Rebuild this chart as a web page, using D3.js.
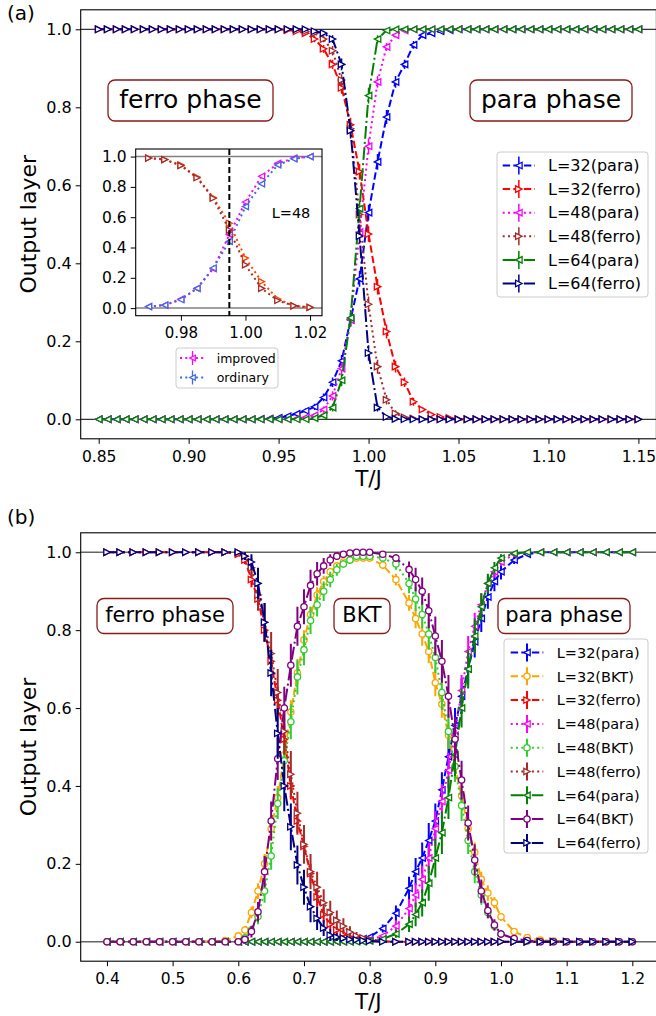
<!DOCTYPE html>
<html>
<head>
<meta charset="utf-8">
<script src="https://cdn.jsdelivr.net/npm/d3@7"></script>
<style>
  body { margin: 0; background: #fff; }
  svg { display: block; }
  text { font-family: "DejaVu Sans", sans-serif; }
</style>
</head>
<body>
<script>
// ---------- panel (a): temperatures and outputs ----------
const tTop = [
  0.85,0.855,0.86,0.865,0.87,0.875,0.88,0.885,0.89,0.895,
  0.9,0.905,0.91,0.915,0.92,0.925,0.93,0.935,0.94,0.945,
  0.95,0.955,0.96,0.965,0.97,0.975,0.98,0.985,0.99,0.995,
  1.0,1.005,1.01,1.015,1.02,1.025,1.03,1.035,1.04,1.045,
  1.05,1.055,1.06,1.065,1.07,1.075,1.08,1.085,1.09,1.095,
  1.1,1.105,1.11,1.115,1.12,1.125,1.13,1.135,1.14,1.145,1.15];
const topPara32 = [
  0,0,0,0,0,0,0,0,0,0, 0,0,0,0,0,0,0,0,0.001,0.002,
  0.004,0.008,0.014,0.022,0.032,0.056,0.095,0.15,0.255,0.36,
  0.53,0.66,0.775,0.865,0.91,0.96,0.985,0.99,0.995,0.998,
  1,1,1,1,1,1,1,1,1,1, 1,1,1,1,1,1,1,1,1,1, 1];
const topFerro32 = [
  1,1,1,1,1,1,1,1,1,1, 1,1,1,1,1,1,1,1,1,1,
  1,0.998,0.995,0.99,0.975,0.95,0.91,0.85,0.755,0.635,
  0.475,0.34,0.225,0.135,0.095,0.045,0.025,0.012,0.006,0.003,
  0,0,0,0,0,0,0,0,0,0, 0,0,0,0,0,0,0,0,0,0, 0];
const topPara48 = [
  0,0,0,0,0,0,0,0,0,0, 0,0,0,0,0,0,0,0,0,0,
  0,0,0.002,0.005,0.01,0.025,0.06,0.13,0.255,0.48,
  0.7,0.865,0.955,0.985,0.997,1,1,1,1,1,
  1,1,1,1,1,1,1,1,1,1, 1,1,1,1,1,1,1,1,1,1, 1];
const topFerro48 = [
  1,1,1,1,1,1,1,1,1,1, 1,1,1,1,1,1,1,1,1,1,
  1,1,1,0.995,0.99,0.975,0.945,0.87,0.745,0.525,
  0.295,0.135,0.05,0.015,0.005,0.002,0,0,0,0,
  0,0,0,0,0,0,0,0,0,0, 0,0,0,0,0,0,0,0,0,0, 0];
const topPara64 = [
  0,0,0,0,0,0,0,0,0,0, 0,0,0,0,0,0,0,0,0,0,
  0,0,0,0,0.003,0.01,0.03,0.1,0.26,0.54,
  0.83,0.975,0.997,1,1,1,1,1,1,1,
  1,1,1,1,1,1,1,1,1,1, 1,1,1,1,1,1,1,1,1,1, 1];
const topFerro64 = [
  1,1,1,1,1,1,1,1,1,1, 1,1,1,1,1,1,1,1,1,1,
  1,1,1,1,0.995,0.99,0.975,0.91,0.74,0.47,
  0.17,0.03,0.006,0.001,0,0,0,0,0,0,
  0,0,0,0,0,0,0,0,0,0, 0,0,0,0,0,0,0,0,0,0, 0];
// error bars (half length)
const errTopPara32 = [
  0,0,0,0,0,0,0,0,0,0, 0,0,0,0,0,0,0,0,0,0,
  0,0,0.004,0.006,0.008,0.01,0.012,0.015,0.018,0.02,
  0.02,0.02,0.018,0.015,0.012,0.01,0.006,0.004,0,0,
  0,0,0,0,0,0,0,0,0,0, 0,0,0,0,0,0,0,0,0,0, 0];
const errTopFerro32 = [
  0,0,0,0,0,0,0,0,0,0, 0,0,0,0,0,0,0,0,0,0,
  0,0,0,0.004,0.008,0.01,0.012,0.015,0.018,0.02,
  0.02,0.02,0.018,0.015,0.012,0.01,0.006,0.004,0,0,
  0,0,0,0,0,0,0,0,0,0, 0,0,0,0,0,0,0,0,0,0, 0];
const errTopPara48 = [
  0,0,0,0,0,0,0,0,0,0, 0,0,0,0,0,0,0,0,0,0,
  0,0,0,0,0.005,0.008,0.012,0.015,0.018,0.02,
  0.02,0.015,0.01,0.005,0,0,0,0,0,0,
  0,0,0,0,0,0,0,0,0,0, 0,0,0,0,0,0,0,0,0,0, 0];
const errTopFerro48 = [
  0,0,0,0,0,0,0,0,0,0, 0,0,0,0,0,0,0,0,0,0,
  0,0,0,0,0.005,0.008,0.012,0.015,0.018,0.02,
  0.02,0.018,0.012,0.008,0.004,0,0,0,0,0,
  0,0,0,0,0,0,0,0,0,0, 0,0,0,0,0,0,0,0,0,0, 0];
const errTopPara64 = [
  0,0,0,0,0,0,0,0,0,0, 0,0,0,0,0,0,0,0,0,0,
  0,0,0,0,0,0.006,0.01,0.015,0.02,0.02,
  0.02,0.01,0.004,0,0,0,0,0,0,0,
  0,0,0,0,0,0,0,0,0,0, 0,0,0,0,0,0,0,0,0,0, 0];
const errTopFerro64 = [
  0,0,0,0,0,0,0,0,0,0, 0,0,0,0,0,0,0,0,0,0,
  0,0,0,0,0.004,0.006,0.01,0.015,0.02,0.02,
  0.02,0.01,0.004,0,0,0,0,0,0,0,
  0,0,0,0,0,0,0,0,0,0, 0,0,0,0,0,0,0,0,0,0, 0];

// inset (L=48)
const tInset = [0.97,0.975,0.98,0.985,0.99,0.995,1.0,1.005,1.01,1.015,1.02];
const insetParaImproved = [0.01,0.02,0.06,0.13,0.26,0.485,0.7,0.87,0.955,0.99,1.0];
const insetParaOrdinary = [0.01,0.02,0.055,0.13,0.265,0.44,0.67,0.82,0.945,0.985,1.0];
const insetFerroImproved = [0.99,0.98,0.945,0.865,0.73,0.56,0.33,0.175,0.06,0.015,0.005];
const insetFerroOrdinary = [0.99,0.98,0.94,0.86,0.725,0.515,0.285,0.13,0.05,0.015,0.005];
const insetErr = [0.004,0.006,0.008,0.01,0.012,0.012,0.012,0.01,0.008,0.006,0.004];
const insetTc = 0.995;

// ---------- panel (b) ----------
const tBot = [
  0.40,0.42,0.44,0.46,0.48,0.50,0.52,0.54,0.56,0.58,
  0.60,0.61,0.62,0.63,0.64,0.65,0.66,0.67,0.68,0.69,
  0.70,0.71,0.72,0.73,0.74,0.75,0.76,0.77,0.78,0.79,
  0.80,0.82,0.84,0.86,0.87,0.88,0.89,0.90,0.91,0.92,
  0.93,0.94,0.95,0.96,0.97,0.98,0.99,1.00,1.02,1.04,
  1.06,1.08,1.10,1.12,1.14,1.16,1.18,1.20];
const botPara32 = [
  0,0,0,0,0,0,0,0,0,0, 0,0,0,0,0,0,0,0,0,0,
  0,0,0,0,0,0,0.002,0.003,0.005,0.008,
  0.012,0.034,0.073,0.137,0.18,0.215,0.26,0.31,0.39,0.475,
  0.555,0.63,0.7,0.77,0.83,0.885,0.925,0.95,0.98,0.995,
  1,1,1,1,1,1,1,1];
const botBkt32 = [
  0,0,0,0,0,0,0,0,0,0.003,
  0.015,0.03,0.075,0.13,0.2,0.29,0.37,0.48,0.59,0.69,
  0.775,0.84,0.89,0.925,0.95,0.965,0.975,0.98,0.985,0.985,
  0.985,0.967,0.93,0.87,0.83,0.79,0.745,0.665,0.61,0.53,
  0.45,0.375,0.29,0.23,0.16,0.125,0.1,0.064,0.026,0.011,
  0.004,0.002,0,0,0,0,0,0];
const botFerro32 = [
  1,1,1,1,1,1,1,1,1,1,
  0.995,0.98,0.93,0.88,0.8,0.72,0.62,0.52,0.4,0.31,
  0.245,0.175,0.115,0.07,0.045,0.03,0.02,0.012,0.008,0.005,
  0.003,0.001,0,0,0,0,0,0,0,0,
  0,0,0,0,0,0,0,0,0,0, 0,0,0,0,0,0,0,0];
const botPara48 = [
  0,0,0,0,0,0,0,0,0,0, 0,0,0,0,0,0,0,0,0,0,
  0,0,0,0,0,0,0,0,0.002,0.003,
  0.005,0.015,0.04,0.085,0.12,0.16,0.215,0.29,0.36,0.44,
  0.53,0.645,0.745,0.81,0.865,0.92,0.95,0.975,0.995,1,
  1,1,1,1,1,1,1,1];
const botBkt48 = [
  0,0,0,0,0,0,0,0,0,0,
  0,0.01,0.03,0.065,0.13,0.22,0.355,0.465,0.565,0.68,
  0.75,0.825,0.865,0.9,0.93,0.955,0.97,0.98,0.99,0.99,
  0.99,0.985,0.97,0.92,0.88,0.84,0.79,0.73,0.64,0.54,
  0.45,0.35,0.26,0.18,0.12,0.075,0.04,0.02,0.007,0.002,
  0,0,0,0,0,0,0,0];
const botFerro48 = [
  1,1,1,1,1,1,1,1,1,1,
  1,0.99,0.96,0.89,0.82,0.74,0.64,0.54,0.43,0.33,
  0.25,0.18,0.14,0.1,0.075,0.055,0.04,0.025,0.015,0.01,
  0.006,0.002,0,0,0,0,0,0,0,0,
  0,0,0,0,0,0,0,0,0,0, 0,0,0,0,0,0,0,0];
const botPara64 = [
  0,0,0,0,0,0,0,0,0,0, 0,0,0,0,0,0,0,0,0,0,
  0,0,0,0,0,0,0,0,0,0,
  0.002,0.007,0.02,0.045,0.07,0.1,0.15,0.215,0.28,0.37,
  0.48,0.6,0.7,0.785,0.86,0.92,0.96,0.985,0.997,1,
  1,1,1,1,1,1,1,1];
const botBkt64 = [
  0,0,0,0,0,0,0,0,0,0,
  0,0.006,0.026,0.077,0.18,0.31,0.47,0.6,0.71,0.81,
  0.86,0.915,0.945,0.965,0.98,0.99,0.995,0.998,1,1,
  1,0.995,0.985,0.956,0.93,0.9,0.85,0.785,0.72,0.63,
  0.52,0.415,0.305,0.21,0.13,0.08,0.043,0.02,0.008,0.003,
  0,0,0,0,0,0,0,0];
const botFerro64 = [
  1,1,1,1,1,1,1,1,1,1,
  1,0.99,0.975,0.92,0.82,0.69,0.535,0.4,0.295,0.197,
  0.14,0.09,0.06,0.035,0.017,0.012,0.009,0.006,0.005,0.003,
  0.002,0,0,0,0,0,0,0,0,0,
  0,0,0,0,0,0,0,0,0,0, 0,0,0,0,0,0,0,0];
const errBotPara32 = [
  0,0,0,0,0,0,0,0,0,0, 0,0,0,0,0,0,0,0,0,0,
  0,0,0,0,0,0,0,0,0,0.005,
  0.005,0.01,0.02,0.03,0.035,0.04,0.045,0.045,0.045,0.045,
  0.045,0.045,0.04,0.04,0.035,0.03,0.025,0.02,0.01,0.005,
  0,0,0,0,0,0,0,0];
const errBotBkt32 = [
  0,0,0,0,0,0,0,0,0,0,
  0.005,0.01,0.015,0.02,0.025,0.03,0.03,0.03,0.03,0.03,
  0.025,0.02,0.02,0.015,0.01,0.01,0.005,0.005,0.005,0.005,
  0.005,0.01,0.015,0.02,0.025,0.03,0.03,0.035,0.035,0.035,
  0.035,0.03,0.03,0.025,0.02,0.02,0.015,0.01,0.005,0,
  0,0,0,0,0,0,0,0];
const errBotFerro32 = [
  0,0,0,0,0,0,0,0,0,0,
  0.005,0.01,0.02,0.025,0.03,0.03,0.035,0.035,0.035,0.03,
  0.03,0.025,0.025,0.02,0.015,0.01,0.01,0.005,0.005,0,
  0,0,0,0,0,0,0,0,0,0,
  0,0,0,0,0,0,0,0,0,0, 0,0,0,0,0,0,0,0];
const errBotPara48 = [
  0,0,0,0,0,0,0,0,0,0, 0,0,0,0,0,0,0,0,0,0,
  0,0,0,0,0,0,0,0,0,0,
  0,0.005,0.015,0.025,0.03,0.035,0.04,0.045,0.045,0.045,
  0.045,0.04,0.04,0.035,0.03,0.02,0.015,0.01,0.005,0,
  0,0,0,0,0,0,0,0];
const errBotBkt48 = [
  0,0,0,0,0,0,0,0,0,0,
  0,0.005,0.01,0.02,0.03,0.035,0.04,0.045,0.045,0.045,
  0.04,0.035,0.03,0.025,0.02,0.015,0.01,0.01,0.005,0.005,
  0.005,0.01,0.015,0.025,0.03,0.035,0.04,0.04,0.045,0.045,
  0.04,0.04,0.035,0.03,0.025,0.015,0.01,0.005,0,0,
  0,0,0,0,0,0,0,0];
const errBotFerro48 = [
  0,0,0,0,0,0,0,0,0,0,
  0,0.01,0.025,0.04,0.05,0.055,0.06,0.06,0.06,0.055,
  0.05,0.045,0.04,0.035,0.03,0.025,0.02,0.015,0.01,0.005,
  0,0,0,0,0,0,0,0,0,0,
  0,0,0,0,0,0,0,0,0,0, 0,0,0,0,0,0,0,0];
const errBotPara64 = [
  0,0,0,0,0,0,0,0,0,0, 0,0,0,0,0,0,0,0,0,0,
  0,0,0,0,0,0,0,0,0,0,
  0,0,0.01,0.02,0.03,0.035,0.045,0.05,0.055,0.055,
  0.055,0.05,0.05,0.045,0.035,0.025,0.015,0.01,0,0,
  0,0,0,0,0,0,0,0];
const errBotBkt64 = [
  0,0,0,0,0,0,0,0,0,0,
  0,0.005,0.015,0.025,0.04,0.05,0.055,0.055,0.055,0.05,
  0.045,0.04,0.03,0.02,0.015,0.01,0.005,0,0,0,
  0,0.005,0.01,0.02,0.03,0.035,0.045,0.05,0.055,0.055,
  0.055,0.05,0.045,0.04,0.03,0.02,0.015,0.01,0,0,
  0,0,0,0,0,0,0,0];
const errBotFerro64 = [
  0,0,0,0,0,0,0,0,0,0,
  0,0.01,0.02,0.04,0.05,0.06,0.065,0.065,0.06,0.05,
  0.045,0.04,0.03,0.02,0.015,0.01,0.005,0,0,0,
  0,0,0,0,0,0,0,0,0,0,
  0,0,0,0,0,0,0,0,0,0, 0,0,0,0,0,0,0,0];

const ticksTopX = [0.85,0.9,0.95,1.0,1.05,1.1,1.15];
const ticksBotX = [0.4,0.5,0.6,0.7,0.8,0.9,1.0,1.1,1.2];
const ticksY = [0,0.2,0.4,0.6,0.8,1.0];
const ticksInsetX = [0.98,1.0,1.02];

// ---------- styling ----------
const DASH = {dashed: "7.4,3.2", dotted: "2,3.3", dashdot: "12.8,3.2,2,3.2"};

const topSeries = [
  {label: "L=32(para)", v: topPara32, e: errTopPara32, color: "#0000ff", dash: "dashed", mk: "left"},
  {label: "L=32(ferro)", v: topFerro32, e: errTopFerro32, color: "#ff0000", dash: "dashed", mk: "right"},
  {label: "L=48(para)", v: topPara48, e: errTopPara48, color: "#ff00ff", dash: "dotted", mk: "left"},
  {label: "L=48(ferro)", v: topFerro48, e: errTopFerro48, color: "#a52a2a", dash: "dotted", mk: "right"},
  {label: "L=64(para)", v: topPara64, e: errTopPara64, color: "#008000", dash: "dashdot", mk: "left"},
  {label: "L=64(ferro)", v: topFerro64, e: errTopFerro64, color: "#000080", dash: "dashdot", mk: "right"}
];
const insetSeries = [
  {label: "improved", v: insetParaImproved, e: insetErr, color: "#ff00ff", dash: "dotted", mk: "left"},
  {label: "ordinary", v: insetParaOrdinary, e: insetErr, color: "#4169e1", dash: "dotted", mk: "left"},
  {label: null, v: insetFerroImproved, e: insetErr, color: "#ff4500", dash: "dotted", mk: "right"},
  {label: null, v: insetFerroOrdinary, e: insetErr, color: "#a52a2a", dash: "dotted", mk: "right"}
];
const botSeries = [
  {label: "L=32(para)", v: botPara32, e: errBotPara32, color: "#0000ff", dash: "dashed", mk: "left"},
  {label: "L=32(BKT)", v: botBkt32, e: errBotBkt32, color: "#ffa500", dash: "dashed", mk: "circle"},
  {label: "L=32(ferro)", v: botFerro32, e: errBotFerro32, color: "#ff0000", dash: "dashed", mk: "right"},
  {label: "L=48(para)", v: botPara48, e: errBotPara48, color: "#ff00ff", dash: "dotted", mk: "left"},
  {label: "L=48(BKT)", v: botBkt48, e: errBotBkt48, color: "#32cd32", dash: "dotted", mk: "circle"},
  {label: "L=48(ferro)", v: botFerro48, e: errBotFerro48, color: "#a52a2a", dash: "dotted", mk: "right"},
  {label: "L=64(para)", v: botPara64, e: errBotPara64, color: "#008000", dash: "dashdot", mk: "left"},
  {label: "L=64(BKT)", v: botBkt64, e: errBotBkt64, color: "#800080", dash: "dashdot", mk: "circle"},
  {label: "L=64(ferro)", v: botFerro64, e: errBotFerro64, color: "#000080", dash: "dashdot", mk: "right"}
];

const svg = d3.select("body").append("svg").attr("width", 656).attr("height", 1016);

function addMarker(g, type, x, y, size, color) {
  const h = size / 2;
  if (type === "circle") {
    return g.append("circle").attr("cx", x).attr("cy", y).attr("r", h)
      .attr("fill", "#fff").attr("stroke", color).attr("stroke-width", 1.3);
  }
  const p = type === "left"
    ? `M${-h},0L${h},${-h}L${h},${h}Z`
    : `M${h},0L${-h},${-h}L${-h},${h}Z`;
  return g.append("path").attr("d", p).attr("transform", `translate(${x},${y})`)
    .attr("fill", "#fff").attr("stroke", color).attr("stroke-width", 1.3);
}

function drawSeries(layer, sx, sy, ts, s, opt) {
  const g = layer.append("g");
  const pts = ts.map((t, i) => ({t: t, v: s.v[i], e: s.e[i]}));
  g.append("path").datum(pts)
    .attr("d", d3.line().x(d => sx(d.t)).y(d => sy(d.v)))
    .attr("fill", "none").attr("stroke", s.color).attr("stroke-width", opt.lw)
    .attr("stroke-dasharray", DASH[s.dash]);
  g.selectAll(".eb").data(pts.filter(d => d.e > 0)).join("line")
    .attr("x1", d => sx(d.t)).attr("x2", d => sx(d.t))
    .attr("y1", d => sy(d.v - d.e)).attr("y2", d => sy(d.v + d.e))
    .attr("stroke", s.color).attr("stroke-width", opt.elw);
  pts.forEach(d => addMarker(g, s.mk, sx(d.t), sy(d.v), opt.ms, s.color));
}

function drawAxes(g, box, sx, sy, xt, yt, xfmt, yfmt, fx, fy) {
  const xa = g.append("g").attr("transform", `translate(0,${box.b})`)
    .call(d3.axisBottom(sx).tickValues(xt).tickFormat(xfmt).tickSize(5).tickPadding(7));
  xa.select(".domain").remove();
  xa.attr("font-family", "DejaVu Sans").attr("font-size", fx);
  const ya = g.append("g").attr("transform", `translate(${box.l},0)`)
    .call(d3.axisLeft(sy).tickValues(yt).tickFormat(yfmt).tickSize(5).tickPadding(4));
  ya.select(".domain").remove();
  ya.attr("font-family", "DejaVu Sans").attr("font-size", fy);
  g.append("rect").attr("x", box.l).attr("y", box.t)
    .attr("width", box.r - box.l).attr("height", box.b - box.t)
    .attr("fill", "none").attr("stroke", "#000").attr("stroke-width", 1.1);
}

function hlines(g, box, sy, color, w) {
  [0, 1].forEach(v => g.append("line").attr("x1", box.l).attr("x2", box.r)
    .attr("y1", sy(v)).attr("y2", sy(v)).attr("stroke", color).attr("stroke-width", w));
}

function clipFor(id, box) {
  svg.append("clipPath").attr("id", id).append("rect")
    .attr("x", box.l).attr("y", box.t).attr("width", box.r - box.l).attr("height", box.b - box.t);
  return `url(#${id})`;
}

function phaseBox(g, cx, y0, w, h, label, fs, baseline) {
  g.append("rect").attr("x", cx - w / 2).attr("y", y0).attr("width", w).attr("height", h)
    .attr("rx", 7).attr("fill", "#fff").attr("stroke", "#8b1a1a").attr("stroke-width", 1.3);
  g.append("text").attr("x", cx).attr("y", baseline).attr("text-anchor", "middle")
    .attr("font-size", fs).text(label);
}

function legend(g, items, o) {
  g.append("rect").attr("x", o.x).attr("y", o.y).attr("width", o.w).attr("height", o.h)
    .attr("rx", 3).attr("fill", "#fff").attr("fill-opacity", 0.8)
    .attr("stroke", "#cccccc").attr("stroke-width", 1);
  items.forEach((s, i) => {
    const y = o.row0 + i * o.dy;
    const mid = (o.s0 + o.s1) / 2;
    g.append("line").attr("x1", o.s0).attr("x2", o.s1).attr("y1", y).attr("y2", y)
      .attr("stroke", s.color).attr("stroke-width", o.lw).attr("stroke-dasharray", DASH[s.dash]);
    g.append("line").attr("x1", mid).attr("x2", mid).attr("y1", y - o.eb).attr("y2", y + o.eb)
      .attr("stroke", s.color).attr("stroke-width", o.elw);
    addMarker(g, s.mk, mid, y, o.ms, s.color);
    g.append("text").attr("x", o.tx).attr("y", y).attr("dy", "0.36em")
      .attr("font-size", o.fs).text(s.label);
  });
}

// ---------- panel (a) ----------
const boxA = {l: 80.7, r: 656.4, t: 9.8, b: 438.8};
const xA = d3.scaleLinear().domain([0.84, 1.16]).range([boxA.l, boxA.r]);
const yA = d3.scaleLinear().domain([-0.05, 1.05]).range([boxA.b, boxA.t]);
const gA = svg.append("g");
hlines(gA, boxA, yA, "#000", 1);
const dataA = gA.append("g").attr("clip-path", clipFor("clipA", boxA));
topSeries.forEach(s => drawSeries(dataA, xA, yA, tTop, s, {lw: 2, elw: 1.5, ms: 6.5}));
drawAxes(gA, boxA, xA, yA, ticksTopX, ticksY, d3.format(".2f"), d3.format(".1f"), 15.5, 16);
gA.append("text").attr("x", (boxA.l + boxA.r) / 2).attr("y", 486).attr("text-anchor", "middle")
  .attr("font-size", 21.5).text("T/J");
gA.append("text").attr("transform", `translate(28,${(boxA.t + boxA.b) / 2}) rotate(-90)`)
  .attr("text-anchor", "middle").attr("dy", "0.36em").attr("font-size", 22).text("Output layer");
phaseBox(gA, 190.5, 80, 165, 41, "ferro phase", 25, 107.7);
phaseBox(gA, 551, 80, 162, 41, "para phase", 25, 107.7);
legend(gA, topSeries, {x: 497, y: 152, w: 151, h: 145, row0: 165.5, dy: 23.6,
  s0: 502.7, s1: 535, tx: 548, fs: 16, lw: 2, elw: 1.5, eb: 9, ms: 6.5});

// inset
const boxI = {l: 135.7, r: 322, t: 149, b: 315.7};
const xI = d3.scaleLinear().domain([0.966, 1.0237]).range([boxI.l, boxI.r]);
const yI = d3.scaleLinear().domain([-0.05, 1.05]).range([boxI.b, boxI.t]);
const gI = svg.append("g");
gI.append("rect").attr("x", boxI.l).attr("y", boxI.t).attr("width", boxI.r - boxI.l)
  .attr("height", boxI.b - boxI.t).attr("fill", "#fff");
hlines(gI, boxI, yI, "#808080", 1.5);
const dataI = gI.append("g").attr("clip-path", clipFor("clipI", boxI));
insetSeries.forEach(s => drawSeries(dataI, xI, yI, tInset, s, {lw: 2, elw: 1.3, ms: 6}));
dataI.append("line").attr("x1", xI(insetTc)).attr("x2", xI(insetTc))
  .attr("y1", boxI.t).attr("y2", boxI.b).attr("stroke", "#000").attr("stroke-width", 2)
  .attr("stroke-dasharray", "6,3");
drawAxes(gI, boxI, xI, yI, ticksInsetX, ticksY, d3.format(".2f"), d3.format(".1f"), 15, 15.5);
gI.append("text").attr("x", 291).attr("y", 213).attr("dy", "0.36em").attr("text-anchor", "middle")
  .attr("font-size", 14.5).text("L=48");
legend(gI, insetSeries.filter(s => s.label), {x: 176, y: 348, w: 102, h: 40, row0: 358, dy: 19.5,
  s0: 180, s1: 205, tx: 216.7, fs: 12.5, lw: 1.8, elw: 1.3, eb: 7, ms: 5.5});

svg.append("text").attr("x", 7).attr("y", 20).attr("font-family", "Liberation Serif")
  .attr("font-size", 20).text("(a)");

// ---------- panel (b) ----------
const boxB = {l: 80.7, r: 658.6, t: 532.8, b: 961.2};
const xB = d3.scaleLinear().domain([0.36, 1.24]).range([boxB.l, boxB.r]);
const yB = d3.scaleLinear().domain([-0.05, 1.05]).range([boxB.b, boxB.t]);
const gB = svg.append("g");
hlines(gB, boxB, yB, "#666", 1.3);
const dataB = gB.append("g").attr("clip-path", clipFor("clipB", boxB));
botSeries.forEach(s => drawSeries(dataB, xB, yB, tBot, s, {lw: 2, elw: 2, ms: 6.3}));
drawAxes(gB, boxB, xB, yB, ticksBotX, ticksY, d3.format(".1f"), d3.format(".1f"), 15.5, 16);
gB.append("text").attr("x", (boxB.l + 656) / 2).attr("y", 1008.5).attr("text-anchor", "middle")
  .attr("font-size", 21.5).text("T/J");
gB.append("text").attr("transform", `translate(28,${(boxB.t + boxB.b) / 2}) rotate(-90)`)
  .attr("text-anchor", "middle").attr("dy", "0.36em").attr("font-size", 22).text("Output layer");
phaseBox(gB, 165, 598.5, 136, 35, "ferro phase", 21, 621.7);
phaseBox(gB, 362, 598.5, 56, 35, "BKT", 21, 621.7);
phaseBox(gB, 564, 598.5, 132, 35, "para phase", 21, 621.7);
legend(gB, botSeries, {x: 504, y: 639, w: 144, h: 214, row0: 652.5, dy: 23.8,
  s0: 510.7, s1: 543.3, tx: 556.7, fs: 14.5, lw: 2, elw: 2, eb: 9, ms: 6.3});

svg.append("text").attr("x", 7).attr("y", 524).attr("font-family", "Liberation Serif")
  .attr("font-size", 20).text("(b)");
</script>
</body>
</html>
